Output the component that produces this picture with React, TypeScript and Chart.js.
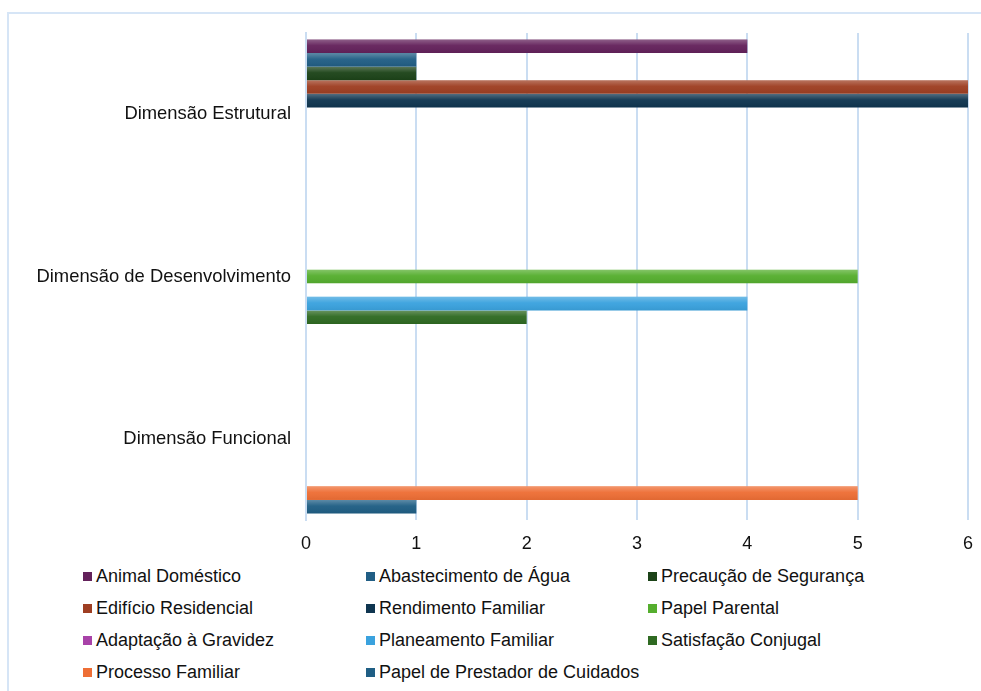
import React, { useEffect, useRef } from "react";
import { Chart, registerables } from "chart.js";

Chart.register(...registerables);

const categories = ["Dimensão Estrutural", "Dimensão de Desenvolvimento", "Dimensão Funcional"];
const seriesNames = [
  "Animal Doméstico",
  "Abastecimento de Água",
  "Precaução de Segurança",
  "Edifício Residencial",
  "Rendimento Familiar",
  "Papel Parental",
  "Adaptação à Gravidez",
  "Planeamento Familiar",
  "Satisfação Conjugal",
  "Processo Familiar",
  "Papel de Prestador de Cuidados",
];
const seriesColors = [
  "#63215B",
  "#215E85",
  "#1C4318",
  "#9E3E22",
  "#0F3550",
  "#55AE2E",
  "#A842A8",
  "#3AA2DE",
  "#2F6A22",
  "#EE6E35",
  "#1F5E84",
];
const animalDomestico = [4, null, null];
const abastecimentoAgua = [1, null, null];
const precaucaoSeguranca = [1, null, null];
const edificioResidencial = [6, null, null];
const rendimentoFamiliar = [6, null, null];
const papelParental = [null, 5, null];
const adaptacaoGravidez = [null, null, null];
const planeamentoFamiliar = [null, 4, null];
const satisfacaoConjugal = [null, 2, null];
const processoFamiliar = [null, null, 5];
const papelPrestador = [null, null, 1];
const seriesValues = [
  animalDomestico,
  abastecimentoAgua,
  precaucaoSeguranca,
  edificioResidencial,
  rendimentoFamiliar,
  papelParental,
  adaptacaoGravidez,
  planeamentoFamiliar,
  satisfacaoConjugal,
  processoFamiliar,
  papelPrestador,
];
const xMin = 0;
const xMax = 6;

const FONT = "'Liberation Sans', Arial, Helvetica, sans-serif";

const shinePlugin = {
  id: "shine",
  afterDatasetsDraw(chart: any) {
    const ctx = chart.ctx;
    chart.data.datasets.forEach((_: any, i: number) => {
      const meta = chart.getDatasetMeta(i);
      meta.data.forEach((el: any, j: number) => {
        const v = chart.data.datasets[i].data[j];
        if (v == null) return;
        const top = el.y - el.height / 2;
        const left = Math.min(el.x, el.base);
        const w = Math.abs(el.x - el.base);
        const g = ctx.createLinearGradient(0, top, 0, top + el.height);
        g.addColorStop(0, "rgba(255,255,255,0.28)");
        g.addColorStop(0.45, "rgba(255,255,255,0.04)");
        g.addColorStop(1, "rgba(0,0,0,0.06)");
        ctx.save();
        ctx.fillStyle = g;
        ctx.fillRect(left, top, w, el.height);
        ctx.restore();
      });
    });
  },
};

export default function App() {
  const ref = useRef<HTMLCanvasElement>(null);
  useEffect(() => {
    if (!ref.current) return;
    const chart = new Chart(ref.current, {
      type: "bar",
      data: {
        labels: categories,
        datasets: seriesNames.map((name, i) => ({
          label: name,
          data: seriesValues[i],
          backgroundColor: seriesColors[i],
          borderWidth: 0,
          barPercentage: 1,
          categoryPercentage: 0.92,
        })),
      },
      options: {
        indexAxis: "y",
        animation: false,
        responsive: false,
        maintainAspectRatio: false,
        layout: { padding: { top: 33, right: 0, left: 0, bottom: 0 } },
        plugins: {
          legend: { display: false },
          tooltip: { enabled: false },
        },
        scales: {
          x: {
            min: xMin,
            max: xMax,
            ticks: {
              stepSize: 1,
              color: "#111",
              padding: 13,
              font: { family: FONT, size: 18 },
            },
            grid: { color: "#CADDF2", lineWidth: 2, drawTicks: false },
            border: { display: false },
            afterFit: (s: any) => {
              s.height = 40;
            },
          },
          y: {
            ticks: {
              color: "#111",
              padding: 15,
              font: { family: FONT, size: 18.4 },
            },
            grid: { display: false, drawTicks: false },
            border: { display: true, color: "#CADDF2", width: 2 },
            afterFit: (s: any) => {
              s.width = 306;
            },
          },
        },
      },
      plugins: [shinePlugin],
    });
    return () => chart.destroy();
  }, []);

  const cols = [83, 366, 648];
  const rowsY = [576, 608, 640, 672];

  return (
    <div
      style={{
        position: "absolute",
        left: 0,
        top: 0,
        width: 981,
        height: 691,
        background: "#fff",
        overflow: "hidden",
        fontFamily: FONT,
      }}
    >
      <div
        style={{
          position: "absolute",
          left: 7,
          top: 12,
          width: 990,
          height: 700,
          borderTop: "2px solid #D6E5F6",
          borderLeft: "2px solid #D6E5F6",
          boxSizing: "border-box",
        }}
      />
      <canvas
        ref={ref}
        width={986}
        height={560}
        style={{ position: "absolute", left: 0, top: 0, width: 986, height: 560 }}
      />
      {seriesNames.map((name, i) => {
        const col = i % 3;
        const row = Math.floor(i / 3);
        return (
          <div
            key={name}
            style={{
              position: "absolute",
              left: cols[col],
              top: rowsY[row] - 11,
              height: 22,
              display: "flex",
              alignItems: "center",
              whiteSpace: "nowrap",
              fontSize: 18,
              color: "#111",
            }}
          >
            <span
              style={{
                display: "inline-block",
                width: 9,
                height: 9,
                background: seriesColors[i],
                marginRight: 4,
              }}
            />
            <span>{name}</span>
          </div>
        );
      })}
    </div>
  );
}
